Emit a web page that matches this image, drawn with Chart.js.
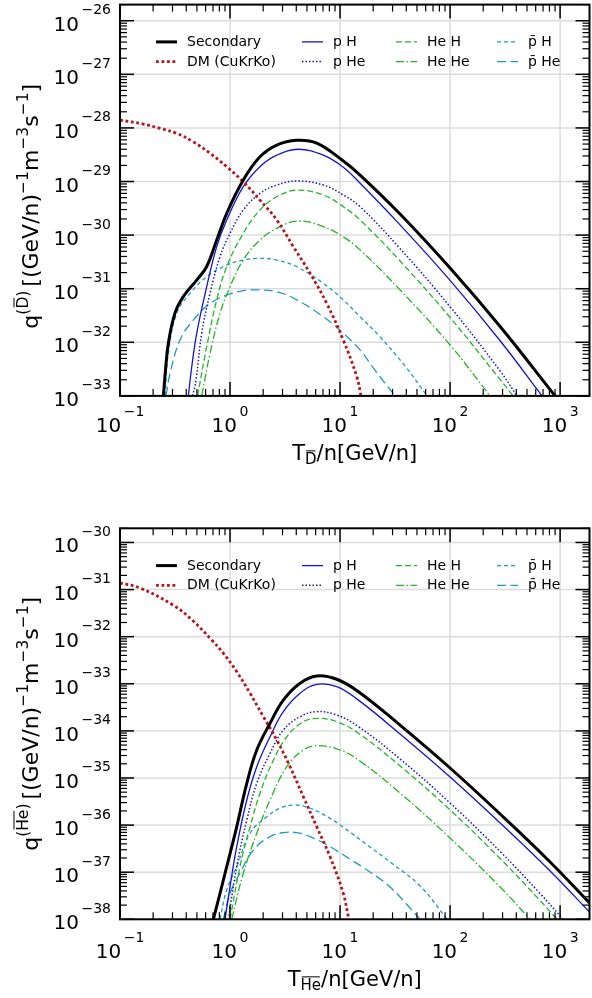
<!DOCTYPE html>
<html><head><meta charset="utf-8">
<script src="https://cdn.jsdelivr.net/npm/chart.js@4.4.1/dist/chart.umd.min.js"></script>
<style>
html,body{margin:0;padding:0;background:#fff;width:592px;height:998px;overflow:hidden;}
canvas{position:absolute;left:0;}
#c1{top:0;width:592px;height:498px;}
#c2{top:498px;width:592px;height:500px;}
</style></head><body>
<canvas id="c1" width="592" height="498"></canvas>
<canvas id="c2" width="592" height="500"></canvas>
<script>
// ---------- labels ----------
const seriesLabels = ['Secondary','DM (CuKrKo)','p H','p He','He H','He He','p\u0304 H','p\u0304 He'];
const xTickExp = [-1,0,1,2,3];
const dYTickExp = [-33,-32,-31,-30,-29,-28,-27,-26];
const hYTickExp = [-38,-37,-36,-35,-34,-33,-32,-31,-30];

// ---------- top panel (anti-deuteron) ----------
const dSecX = [0.248,0.259,0.275,0.316,0.376,0.498,0.614,0.757,0.933,1.32,1.87,2.66,4.04,6.14,10.7,15.2,35.1,100,285,901];
const dSecY = [1e-33,3.0e-33,9.6e-33,3.5e-32,7.1e-32,1.45e-31,2.6e-31,8.1e-31,2.55e-30,1.07e-29,2.9e-29,4.8e-29,5.9e-29,5.2e-29,2.41e-29,1.32e-29,2.48e-30,2.43e-31,1.97e-32,1e-33];
const dDMX = [0.1,0.163,0.231,0.328,0.464,0.658,0.933,1.32,1.87,2.66,3.76,5.34,7.57,10.7,14.2,15.5];
const dDMY = [1.40e-28,1.18e-28,9.8e-29,7.9e-29,5.5e-29,3.36e-29,1.89e-29,9.9e-30,4.5e-30,1.91e-30,6.1e-31,1.94e-31,5.3e-32,1.1e-32,2.28e-33,1e-33];
const dPHX = [0.418,0.449,0.498,0.614,0.757,0.933,1.32,1.87,2.66,4.18,7.05,10.7,14.7,35.1,100,285,686];
const dPHY = [1e-33,3.5e-33,1.47e-32,1.09e-31,6.1e-31,1.91e-30,8.0e-30,1.89e-29,3.1e-29,4.0e-29,3.1e-29,1.85e-29,1.0e-29,1.55e-30,1.43e-31,1.07e-32,1e-33];
const dPHeX = [0.458,0.491,0.553,0.658,0.811,1.0,1.32,1.87,2.66,4.04,7.05,10.7,15.2,35.1,100,285,406];
const dPHeY = [1e-33,1.98e-33,1.47e-32,8.2e-32,3.95e-31,1.08e-30,2.94e-30,6.0e-30,8.6e-30,1.02e-29,8.6e-30,5.6e-30,3.39e-30,5.6e-31,4.6e-32,2.92e-33,1e-33];
const dHeHX = [0.507,0.614,0.757,0.933,1.32,1.87,2.66,4.04,7.05,10.7,15.2,35.1,100,285,374];
const dHeHY = [1e-33,8.3e-33,6.2e-32,2.57e-31,1.08e-30,2.94e-30,5.2e-30,6.9e-30,5.6e-30,3.39e-30,1.91e-30,3.29e-31,2.9e-32,2.02e-33,1e-33];
const dHeHeX = [0.553,0.658,0.811,1.0,1.32,1.87,2.66,4.18,7.05,10.7,15.2,35.1,100,231];
const dHeHeY = [1e-33,6.2e-33,3.48e-32,1.09e-31,3.43e-31,8.1e-31,1.34e-30,1.83e-30,1.44e-30,9.3e-31,5.3e-31,9.5e-32,8.9e-33,1e-33];
const dPbHX = [0.257,0.275,0.328,0.433,0.614,0.933,1.32,1.87,2.66,4.04,7.05,10.7,15.2,23.1,39.0,61.8];
const dPbHY = [1e-33,6.2e-33,3.48e-32,8.2e-32,1.67e-31,2.77e-31,3.43e-31,3.69e-31,3.43e-31,2.57e-31,1.26e-31,6.2e-32,3.0e-32,1.26e-32,3.6e-33,1e-33];
const dPbHeX = [0.262,0.285,0.351,0.464,0.658,0.933,1.32,1.75,2.66,4.04,7.05,10.7,15.2,20.8,31.6];
const dPbHeY = [1e-33,2.64e-33,1.1e-32,2.6e-32,5.3e-32,7.6e-32,9.2e-32,9.5e-32,8.8e-32,6.2e-32,3.0e-32,1.47e-32,7.2e-33,3.0e-33,1e-33];

// ---------- bottom panel (anti-helium) ----------
const hSecX = [0.705,0.811,0.933,1.15,1.42,1.75,2.31,3.05,4.33,6.14,9.33,14.7,35.1,100,285,811,1850];
const hSecY = [1e-38,3.56e-38,1.31e-37,9.2e-37,7.7e-36,3.93e-35,1.45e-34,4.5e-34,1.03e-33,1.47e-33,1.25e-33,6.8e-34,1.33e-34,1.63e-35,1.72e-36,1.65e-37,2.22e-38];
const hDMX = [0.1,0.152,0.303,0.452,0.682,0.869,1.15,1.52,2.01,2.66,3.51,4.64,6.14,8.11,10.7,11.9,12.1];
const hDMY = [1.38e-31,1.08e-31,4.7e-32,2.26e-32,8.5e-33,4.45e-33,1.81e-33,6.3e-34,2.0e-34,6.4e-35,1.74e-35,4.0e-36,9.2e-37,2.13e-37,3.56e-38,1.13e-38,1e-38];
const hPHX = [0.901,1.0,1.15,1.42,1.75,2.31,3.05,4.33,6.14,9.33,14.7,35.1,100,285,811,1850];
const hPHY = [1e-38,4.9e-38,3.48e-37,3.41e-36,1.74e-35,7.5e-35,2.56e-34,6.3e-34,9.75e-34,8.7e-34,4.5e-34,8.6e-35,1.05e-35,1.11e-36,1.06e-37,1.43e-38];
const hPHeX = [0.965,1.15,1.42,1.75,2.31,3.05,4.33,6.14,9.33,14.7,35.1,100,285,658,1065];
const hPHeY = [1e-38,1.31e-37,1.28e-36,7.7e-36,3.34e-35,1.04e-34,2.0e-34,2.56e-34,2.18e-34,1.23e-34,2.53e-35,2.94e-36,2.75e-37,3.53e-38,1e-38];
const hHeHX = [1.0,1.23,1.52,1.87,2.48,3.28,4.64,6.35,9.33,14.7,35.1,100,285,658,939];
const hHeHY = [1e-38,1.31e-37,9.2e-37,4.7e-36,2.41e-35,7.5e-35,1.57e-34,1.85e-34,1.57e-34,8.9e-35,1.80e-35,2.10e-36,1.95e-37,2.5e-38,1e-38];
const hHeHeX = [1.036,1.32,1.75,2.31,3.28,4.64,6.35,10,14.7,35.1,100,285,534];
const hHeHeY = [1e-38,9.5e-38,6.7e-37,3.41e-36,1.74e-35,3.93e-35,4.85e-35,3.93e-35,2.41e-35,4.8e-36,5.3e-37,4.85e-38,1e-38];
const hPbHX = [0.811,0.933,1.15,1.52,2.16,2.85,3.90,5.34,8.11,12.3,18.7,28.5,53.4,93.9];
const hPbHY = [1e-38,4.2e-38,1.31e-37,6.7e-37,1.51e-36,2.28e-36,2.67e-36,2.28e-36,1.39e-36,7.1e-37,3.43e-37,1.65e-37,5.1e-38,1e-38];
const hPbHeX = [0.869,1.0,1.23,1.63,2.31,3.05,4.04,5.34,8.11,12.3,18.7,28.5,53.4];
const hPbHeY = [1e-38,3.56e-38,9.5e-38,2.96e-37,5.7e-37,6.9e-37,6.9e-37,5.7e-37,3.48e-37,1.9e-37,1.01e-37,4.85e-38,1e-38];

// ---------- styling ----------
const FONT = '"DejaVu Sans", sans-serif';
const styles = [
  {c:'#000000', w:3.0, d:[]},
  {c:'#b3151b', w:2.8, d:[2.8,2.7]},
  {c:'#1414c8', w:1.3, d:[]},
  {c:'#1414c8', w:1.5, d:[1.5,2.0]},
  {c:'#26b426', w:1.3, d:[6,3]},
  {c:'#26b426', w:1.3, d:[8,2.5,1.5,2.5]},
  {c:'#2299c4', w:1.3, d:[4,3]},
  {c:'#2299c4', w:1.3, d:[9,4.5]}
];

function pts(xs, ys){ return xs.map((x,i)=>({x:x, y:ys[i]})); }
function makeSets(list){
  return list.map((p,i)=>({
    label: seriesLabels[i], data: pts(p[0],p[1]),
    borderColor: styles[i].c, borderWidth: styles[i].w, borderDash: styles[i].d,
    pointRadius: 0, fill:false, tension: 0.4, clip: 0,
    borderCapStyle: 'butt'
  }));
}

function rich(ctx, segs, x, y, align){
  let total = 0;
  segs.forEach(s=>{ ctx.font = s.s+'px '+FONT; s.mw = ctx.measureText(s.t).width; s.w = (s.pre||0)+s.mw+(s.post||0); total += s.w; });
  let cx = align==='center' ? x-total/2 : (align==='right' ? x-total : x);
  segs.forEach(s=>{
    ctx.font = s.s+'px '+FONT;
    const gx = cx+(s.pre||0), gy = y+(s.dy||0);
    ctx.fillText(s.t, gx, gy);
    if (s.bar){
      const bh = s.s*0.73 + 2.2;
      ctx.save(); ctx.lineWidth = 1; ctx.strokeStyle = '#000';
      ctx.beginPath(); ctx.moveTo(gx+s.s*0.08, gy-bh); ctx.lineTo(gx+s.mw-s.s*0.08, gy-bh); ctx.stroke();
      ctx.restore();
    }
    cx += s.w;
  });
}

function decor(P){
  return {
    id: 'decor',
    beforeDatasetsDraw(chart){
      const ctx = chart.ctx, a = chart.chartArea, xs = chart.scales.x, ys = chart.scales.y;
      ctx.save();
      ctx.strokeStyle = '#dcdcdc'; ctx.lineWidth = 1.5;
      xTickExp.forEach(e=>{ const px = xs.getPixelForValue(Math.pow(10,e)); ctx.beginPath(); ctx.moveTo(px,a.top); ctx.lineTo(px,a.bottom); ctx.stroke(); });
      P.yExp.forEach(e=>{ const py = ys.getPixelForValue(Math.pow(10,e)); ctx.beginPath(); ctx.moveTo(a.left,py); ctx.lineTo(a.right,py); ctx.stroke(); });
      ctx.restore();
    },
    afterDraw(chart){
      const ctx = chart.ctx, a = chart.chartArea, xs = chart.scales.x, ys = chart.scales.y;
      ctx.save();
      ctx.strokeStyle = '#000';
      const tick = (px, py, dx, dy, len)=>{ ctx.beginPath(); ctx.moveTo(px,py); ctx.lineTo(px+dx*len, py+dy*len); ctx.stroke(); };
      const xmin = xs.min, xmax = xs.max, ymin = ys.min, ymax = ys.max;
      for (let e = Math.floor(Math.log10(xmin)); e <= Math.ceil(Math.log10(xmax)); e++){
        for (let m = 1; m <= 9; m++){
          const v = m*Math.pow(10,e); if (v < xmin*0.999 || v > xmax*1.001) continue;
          const px = xs.getPixelForValue(v); const major = (m===1);
          ctx.lineWidth = major ? 1.5 : 1.2; const L = major ? 14 : 7;
          tick(px, a.bottom, 0, -1, L); tick(px, a.top, 0, 1, L);
        }
      }
      for (let e = Math.floor(Math.log10(ymin)); e <= Math.ceil(Math.log10(ymax)); e++){
        for (let m = 1; m <= 9; m++){
          const v = m*Math.pow(10,e); if (v < ymin*0.999 || v > ymax*1.001) continue;
          const py = ys.getPixelForValue(v); const major = (m===1);
          ctx.lineWidth = major ? 1.5 : 1.2; const L = major ? 14 : 7;
          tick(a.left, py, 1, 0, L); tick(a.right, py, -1, 0, L);
        }
      }
      ctx.lineWidth = 2; ctx.strokeRect(a.left, a.top, a.right-a.left, a.bottom-a.top);
      ctx.fillStyle = '#000'; ctx.textBaseline = 'alphabetic'; ctx.textAlign = 'left';
      xTickExp.forEach(e=>{
        const px = xs.getPixelForValue(Math.pow(10,e));
        rich(ctx, [{t:'10',s:20},{t:(e<0?'\u2212':'')+Math.abs(e),s:14,dy:-16,pre:2.5}], px, a.bottom+P.xLabOff, 'center');
      });
      P.yExp.forEach(e=>{
        const py = ys.getPixelForValue(Math.pow(10,e));
        rich(ctx, [{t:'10',s:20},{t:'\u2212'+Math.abs(e),s:14,dy:-16.5,pre:2.5}], 111, py+10, 'right');
      });
      const cxm = (a.left+a.right)/2;
      rich(ctx, P.xTitle, cxm, P.xTitleY, 'center');
      ctx.save();
      ctx.translate(P.yTitleX, (a.top+a.bottom)/2 + P.yTitleDY);
      ctx.rotate(-Math.PI/2);
      rich(ctx, P.yTitle, 0, 0, 'center');
      ctx.restore();
      const hx = [156,302,396,497], rows = [37.3,57];
      ctx.font = '14px '+FONT; ctx.textBaseline = 'middle';
      chart.data.datasets.forEach((ds,i)=>{
        const col = Math.floor(i/2), row = i%2;
        const yy = a.top + rows[row], x0 = hx[col];
        ctx.save();
        ctx.strokeStyle = ds.borderColor; ctx.lineWidth = ds.borderWidth; ctx.setLineDash(ds.borderDash||[]);
        ctx.beginPath(); ctx.moveTo(x0, yy); ctx.lineTo(x0+21, yy); ctx.stroke();
        ctx.restore();
        ctx.fillStyle = '#000';
        ctx.fillText(ds.label, x0+31, yy+0.5);
      });
      ctx.restore();
    }
  };
}

function makeChart(id, sets, P){
  return new Chart(document.getElementById(id), {
    type: 'line',
    data: { datasets: makeSets(sets) },
    options: {
      responsive: false, animation: false, devicePixelRatio: 1,
      layout: { padding: { left: 0, right: 2.5, top: P.top, bottom: 0 } },
      plugins: { legend: { display: false }, tooltip: { enabled: false } },
      scales: {
        x: { type: 'logarithmic', min: 0.1, max: 1850, ticks: { display: false }, grid: { display: false }, border: { display: false },
             afterFit: s => { s.height = P.xH; } },
        y: { type: 'logarithmic', min: P.ymin, max: P.ymax, ticks: { display: false }, grid: { display: false }, border: { display: false },
             afterFit: s => { s.width = 120; } }
      }
    },
    plugins: [decor(P)]
  });
}

const yT = (sup) => [{t:'q',s:22},{t:'(',s:15.5,dy:-10.5},{t:sup,s:15.5,dy:-10.5,bar:true},{t:')',s:15.5,dy:-10.5,post:4},
           {t:'[(GeV/n)',s:22},{t:'\u22121',s:15.5,dy:-10.5},{t:'m',s:22},{t:'\u22123',s:15.5,dy:-10.5},{t:'s',s:22},{t:'\u22121',s:15.5,dy:-10.5},{t:']',s:22}];

makeChart('c1', [[dSecX,dSecY],[dDMX,dDMY],[dPHX,dPHY],[dPHeX,dPHeY],[dHeHX,dHeHY],[dHeHeX,dHeHeY],[dPbHX,dPbHY],[dPbHeX,dPbHeY]], {
  top: 4.6, xH: 102.1, ymin: 1e-33, ymax: 2e-26, yExp: dYTickExp, xLabOff: 36.5,
  xTitleY: 460, yTitleX: 38, yTitleDY: 6,
  xTitle: [{t:'T',s:21},{t:'D',s:15,dy:4,bar:true},{t:'/n[GeV/n]',s:21}],
  yTitle: yT('D')
});
makeChart('c2', [[hSecX,hSecY],[hDMX,hDMY],[hPHX,hPHY],[hPHeX,hPHeY],[hHeHX,hHeHY],[hHeHeX,hHeHeY],[hPbHX,hPbHY],[hPbHeX,hPbHeY]], {
  top: 30.3, xH: 78.7, ymin: 1e-38, ymax: 2e-30, yExp: hYTickExp, xLabOff: 39,
  xTitleY: 488, yTitleX: 38, yTitleDY: 0,
  xTitle: [{t:'T',s:21},{t:'He',s:15,dy:4,bar:true},{t:'/n[GeV/n]',s:21}],
  yTitle: yT('He')
});
</script></body></html>
